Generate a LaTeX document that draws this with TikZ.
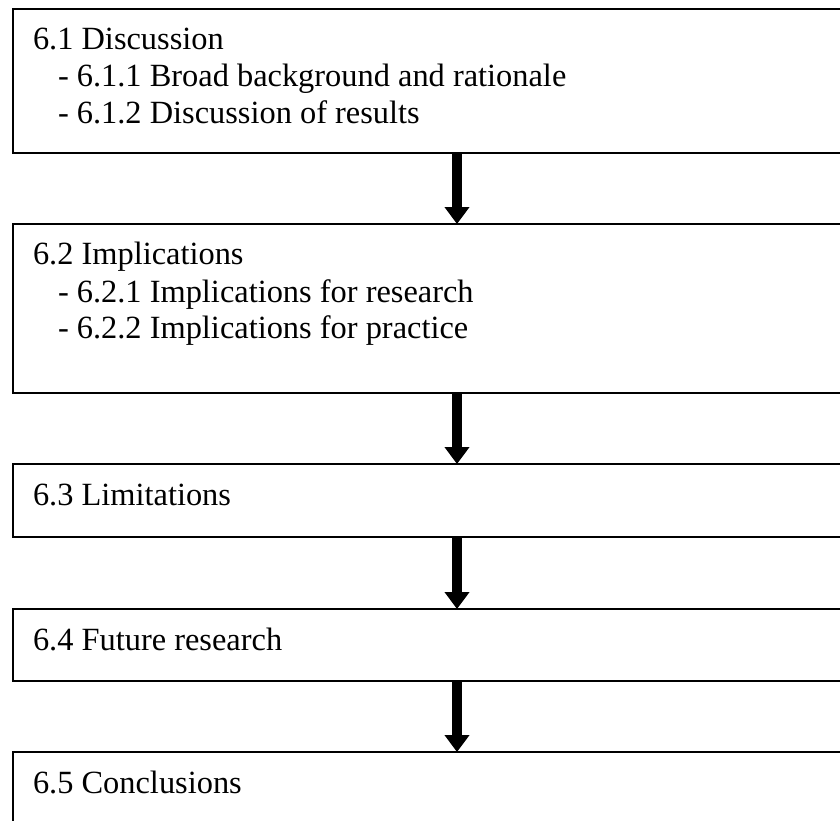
\documentclass[tikz,border=0pt]{standalone}
\usepackage{fontspec}
\setmainfont{Liberation Serif}
\usetikzlibrary{arrows.meta}

\begin{document}
\begin{tikzpicture}[x=1pt, y=-1pt,
  sectionbox/.style={draw=black, line width=2.2pt, fill=none, inner sep=0pt,
    outer sep=0pt, anchor=north west, minimum width=847pt},
  label/.style={anchor=base west, inner sep=0pt, outer sep=0pt,
    font=\fontsize{32.4}{37}\selectfont},
  flow/.style={line width=10.7pt, -{Triangle[width=24pt, length=17pt]}}]
  \useasboundingbox (0,0) rectangle (840,820);
  \clip (0,0) rectangle (840,820);
  \fill[white] (0,0) rectangle (840,820);

  % section boxes (they run past the right and bottom edges)
  \node[sectionbox, minimum height=144pt] (s1) at (13,9) {};
  \node[sectionbox, minimum height=169pt] (s2) at (13,224) {};
  \node[sectionbox, minimum height=73pt]  (s3) at (13,464) {};
  \node[sectionbox, minimum height=72pt]  (s4) at (13,609) {};
  \node[sectionbox, minimum height=80pt]  (s5) at (13,752) {};

  % box texts
  \node[label] (t1)  at (33,49)  {6.1 Discussion};
  \node[label] (t11) at (58,86)  {- 6.1.1 Broad background and rationale};
  \node[label] (t12) at (58,123) {- 6.1.2 Discussion of results};
  \node[label] (t2)  at (33,264) {6.2 Implications};
  \node[label] (t21) at (58,302) {- 6.2.1 Implications for research};
  \node[label] (t22) at (58,338) {- 6.2.2 Implications for practice};
  \node[label] (t3)  at (33,505) {6.3 Limitations};
  \node[label] (t4)  at (33,650) {6.4 Future research};
  \node[label] (t5)  at (33,793) {6.5 Conclusions};

  % arrows between consecutive boxes
  \coordinate (ax) at (457,0);
  \draw[flow] (s1.south -| ax) -- (s2.north -| ax);
  \draw[flow] (s2.south -| ax) -- (s3.north -| ax);
  \draw[flow] (s3.south -| ax) -- (s4.north -| ax);
  \draw[flow] (s4.south -| ax) -- (s5.north -| ax);
\end{tikzpicture}
\end{document}
